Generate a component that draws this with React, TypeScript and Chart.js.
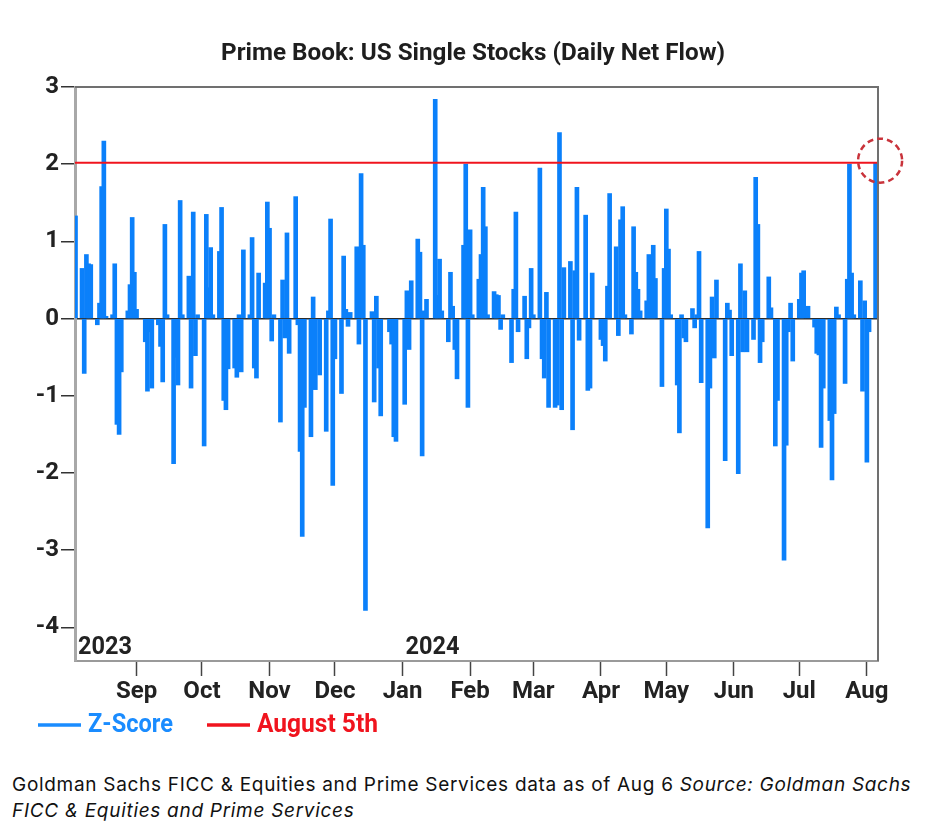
import React, { useEffect, useRef } from 'react';
import { Chart, registerables } from 'chart.js';
Chart.register(...registerables);

const FONT = "Roboto, 'DejaVu Sans Condensed', sans-serif";

// ---- data ----
const chartTitle = 'Prime Book: US Single Stocks (Daily Net Flow)';
const seriesName = 'Z-Score';
const refName = 'August 5th';

const marketHolidays = [
  '2023-09-04', '2023-11-23', '2023-12-25', '2024-01-01', '2024-01-15',
  '2024-02-19', '2024-03-29', '2024-05-27', '2024-06-19', '2024-07-04',
];

const valuesAug2023 = [1.33, 0.65, -0.71, 0.83, 0.71, 0.7, -0.08, 0.2, 1.71, 2.3, 0.03, 0.05, 0.71, -1.37, -1.5, -0.69, 0.1, 0.44, 1.31, 0.6];
const valuesSep2023 = [0.12, -0.3, -0.94, -0.17, -0.9, -0.08, -0.36, -0.82, 1.22, 0.05, -1.88, -0.5, -0.86, 1.53, 0.05, 0.55, -0.9, 1.38, -0.48, 0.05];
const valuesOct2023 = [-1.65, 1.35, 0.4, 0.92, 0.05, 0.87, 1.44, -1.06, -1.18, -0.65, -0.64, -0.76, 0.05, -0.69, 0.89, 0.05, 1.05, -0.64, -0.77, 0.59, 0.46, 1.51];
const valuesNov2023 = [1.17, -0.29, 0.05, -1.34, 0.5, -0.25, 1.11, -0.45, 1.58, -0.08, -1.72, -2.82, -1.15, -1.53, 0.28, -0.92, -0.73, -1.46, 0.1, 1.29, -2.16];
const valuesDec2023 = [-0.52, -0.97, 0.81, 0.12, -0.1, 0.08, 0.93, -0.33, 1.88, 0.95, -3.78, 0.09, -1.08, 0.29, -0.64, -1.26, -0.17, -0.33, -1.53, -1.59];
const valuesJan2024 = [-1.11, 0.36, -0.4, 0.49, 1.03, 0.86, -1.78, 0.1, 0.25, 2.84, 0.3, 0.77, 0.1, -0.3, 0.6, 0.16, -0.4, -0.78, 0.95, 2.0, -1.15];
const valuesFeb2024 = [1.15, 0.05, 0.51, 0.83, 1.7, 1.19, 0.05, 0.35, 0.31, 0.3, -0.14, 0.05, -0.57, 0.38, 1.38, -0.17, 0.29, -0.52, -0.12, 0.65];
const valuesMar2024 = [0.05, 1.95, -0.52, -0.77, 0.34, -1.15, -1.15, -1.12, 2.41, -1.18, 0.66, 0.74, -1.44, 0.62, 1.7, -0.28, 1.34, -0.93, -0.9, 0.59];
const valuesApr2024 = [-0.27, -0.35, -0.55, 0.42, 1.62, 0.93, -0.22, 1.28, 1.45, 0.05, -0.2, 1.19, 0.6, 0.38, 0.1, 0.23, 0.83, 0.1, 0.95, 0.52, -0.88, 0.65];
const valuesMay2024 = [1.42, 0.9, 0.05, -0.86, -1.48, 0.05, -0.25, -0.3, 0.13, -0.12, 0.05, 0.87, -0.83, -2.71, -0.9, 0.28, -0.51, 0.5, -1.84, 0.2, 0.11, -0.48];
const valuesJun2024 = [-2.01, 0.71, -0.43, 0.36, -0.43, -0.27, 1.83, 1.22, -0.57, -0.3, 0.54, 0.14, -1.65, -1.06, -3.13, -1.64, -0.17, 0.2, -0.55];
const valuesJul2024 = [0.25, 0.59, 0.62, 0.16, -0.11, -0.45, -0.47, -1.67, -0.9, -1.32, -2.09, -1.23, 0.15, 0.05, -0.84, 0.51, 2.0, 0.59, 0.05, 0.49, -0.94, 0.23];
const valuesAug2024 = [-1.86, -0.17, 2.02];

const seriesBlocks = [
  { year: 2023, month: 8, firstDay: 4, values: valuesAug2023 },
  { year: 2023, month: 9, firstDay: 1, values: valuesSep2023 },
  { year: 2023, month: 10, firstDay: 1, values: valuesOct2023 },
  { year: 2023, month: 11, firstDay: 1, values: valuesNov2023 },
  { year: 2023, month: 12, firstDay: 1, values: valuesDec2023 },
  { year: 2024, month: 1, firstDay: 1, values: valuesJan2024 },
  { year: 2024, month: 2, firstDay: 1, values: valuesFeb2024 },
  { year: 2024, month: 3, firstDay: 1, values: valuesMar2024 },
  { year: 2024, month: 4, firstDay: 1, values: valuesApr2024 },
  { year: 2024, month: 5, firstDay: 1, values: valuesMay2024 },
  { year: 2024, month: 6, firstDay: 1, values: valuesJun2024 },
  { year: 2024, month: 7, firstDay: 1, values: valuesJul2024 },
  { year: 2024, month: 8, firstDay: 1, values: valuesAug2024 },
];

const monthTickDates = ['2023-09-01', '2023-10-01', '2023-11-01', '2023-12-01', '2024-01-01', '2024-02-01', '2024-03-01', '2024-04-01', '2024-05-01', '2024-06-01', '2024-07-01', '2024-08-01'];
const monthTickLabels = ['Sep', 'Oct', 'Nov', 'Dec', 'Jan', 'Feb', 'Mar', 'Apr', 'May', 'Jun', 'Jul', 'Aug'];
const yearLabels = ['2023', '2024'];
const yearLabelDates = ['2023-08-03', '2024-01-01'];
const yTickValues = [3, 2, 1, 0, -1, -2, -3, -4];

// ---- helpers ----
const EPOCH = Date.UTC(2023, 7, 2);
function dayNum(iso: string): number {
  const [y, m, d] = iso.split('-').map(Number);
  return (Date.UTC(y, m - 1, d) - EPOCH) / 864e5;
}
function pad(n: number) { return n < 10 ? '0' + n : '' + n; }
function tradingDays(year: number, month: number, firstDay: number, count: number): string[] {
  const out: string[] = [];
  let day = firstDay;
  while (out.length < count && day <= 31) {
    const dt = new Date(Date.UTC(year, month - 1, day));
    if (dt.getUTCMonth() !== month - 1) break;
    const iso = `${year}-${pad(month)}-${pad(day)}`;
    const dow = dt.getUTCDay();
    if (dow !== 0 && dow !== 6 && marketHolidays.indexOf(iso) < 0) out.push(iso);
    day++;
  }
  return out;
}

const points: { x: number; y: number }[] = [];
seriesBlocks.forEach((b) => {
  const dates = tradingDays(b.year, b.month, b.firstDay, b.values.length);
  b.values.forEach((v, i) => points.push({ x: dayNum(dates[i]), y: v }));
});
const lastPoint = points[points.length - 1];
const refValue = lastPoint.y;

const X_MIN = 1.77;
const X_MAX = 370.1;

// draw horizontally condensed text (the original uses a condensed face)
function condText(ctx: CanvasRenderingContext2D, text: string, x: number, y: number, size: number, width: number, align: 'left' | 'center') {
  ctx.save();
  ctx.font = `bold ${size}px ${FONT}`;
  ctx.textBaseline = 'alphabetic';
  ctx.textAlign = 'left';
  const w = ctx.measureText(text).width;
  const sx = width / w;
  const x0 = align === 'center' ? x - width / 2 : x;
  ctx.translate(x0, y);
  ctx.scale(sx, 1);
  ctx.fillText(text, 0, 0);
  ctx.restore();
}

const decorPlugin = {
  id: 'decor',
  afterDraw(chart: any) {
    const { ctx, chartArea, scales } = chart;
    const x = scales.x;
    const y = scales.y;
    ctx.save();
    // top and right frame
    ctx.strokeStyle = '#707070';
    ctx.lineWidth = 2;
    ctx.beginPath();
    ctx.moveTo(chartArea.left, chartArea.top);
    ctx.lineTo(chartArea.right, chartArea.top);
    ctx.lineTo(chartArea.right, chartArea.bottom);
    ctx.stroke();

    // title
    ctx.fillStyle = '#1e1e1e';
    condText(ctx, chartTitle, 465, 51.5, 23.5, 504, 'center');

    // year labels
    yearLabels.forEach((t, i) => {
      const px = Math.max(x.getPixelForValue(dayNum(yearLabelDates[i])), chartArea.left) + 3;
      ctx.fillStyle = '#222';
      condText(ctx, t, px, chartArea.bottom - 7, 26.5, 54, 'left');
    });

    // legend
    const ly = 717;
    ctx.lineWidth = 3.5;
    ctx.strokeStyle = '#1a8cff';
    ctx.beginPath(); ctx.moveTo(30, ly); ctx.lineTo(73, ly); ctx.stroke();
    ctx.strokeStyle = '#f0141e';
    ctx.beginPath(); ctx.moveTo(199, ly); ctx.lineTo(242, ly); ctx.stroke();
    ctx.fillStyle = '#1a8cff';
    condText(ctx, seriesName, 80, 724, 26, 85, 'left');
    ctx.fillStyle = '#f0141e';
    condText(ctx, refName, 249, 724, 26, 121, 'left');

    // dashed circle around last bar
    const cx = x.getPixelForValue(lastPoint.x) + 4.5;
    const cy = y.getPixelForValue(lastPoint.y) - 2;
    ctx.setLineDash([6, 4]);
    ctx.lineWidth = 2.5;
    ctx.strokeStyle = '#c9333b';
    ctx.beginPath();
    ctx.arc(cx, cy, 22, 0, Math.PI * 2);
    ctx.stroke();
    ctx.restore();
  },
};

export default function App() {
  const ref = useRef<HTMLCanvasElement | null>(null);
  useEffect(() => {
    if (!ref.current) return;
    const chart = new Chart(ref.current, {
      type: 'bar',
      data: {
        datasets: [
          {
            type: 'line',
            label: refName,
            data: [{ x: X_MIN, y: refValue }, { x: X_MAX, y: refValue }],
            borderColor: '#f0141e',
            borderWidth: 2,
            pointRadius: 0,
            order: 0,
          } as any,
          {
            type: 'bar',
            label: seriesName,
            data: points,
            backgroundColor: '#0b80fa',
            borderWidth: 0,
            barThickness: 4,
            order: 1,
          } as any,
        ],
      },
      options: {
        animation: false,
        responsive: false,
        maintainAspectRatio: false,
        layout: { padding: { top: 79, right: 45, bottom: 32, left: 0 } },
        plugins: { legend: { display: false }, tooltip: { enabled: false }, title: { display: false } },
        scales: {
          x: {
            type: 'linear',
            min: X_MIN,
            max: X_MAX,
            offset: false,
            afterBuildTicks: (s: any) => { s.ticks = monthTickDates.map((d) => ({ value: dayNum(d) })); },
            afterFit: (s: any) => { s.height = 60; },
            ticks: {
              autoSkip: false,
              maxRotation: 0,
              padding: 2,
              color: '#222',
              font: { family: FONT, size: 24, weight: 'bold' },
              callback: (_v: any, i: number) => monthTickLabels[i],
            },
            grid: { offset: false, drawOnChartArea: false, drawTicks: true, tickLength: 15, tickColor: '#444', tickWidth: 1.5, color: '#444' },
            border: { display: true, color: '#9a9a9a', width: 2 },
          },
          y: {
            type: 'linear',
            min: -4.435,
            max: 3,
            z: 1,
            afterBuildTicks: (s: any) => { s.ticks = yTickValues.map((v) => ({ value: v })); },
            afterFit: (s: any) => { s.width = 67; },
            ticks: {
              padding: 2,
              color: '#222',
              font: { family: FONT, size: 24, weight: 'bold' },
              callback: (v: any) => String(v),
            },
            grid: {
              color: (c: any) => (c.tick && c.tick.value === 0 ? '#2b2b2b' : 'rgba(0,0,0,0)'),
              lineWidth: 1.5,
              drawTicks: true,
              tickLength: 14,
              tickColor: '#333',
              tickWidth: 1.5,
            },
            border: { display: true, color: '#a8a8a8', width: 3 },
          },
        },
      } as any,
      plugins: [decorPlugin],
    });
    return () => chart.destroy();
  }, []);

  return (
    <div style={{ position: 'relative', width: 915, height: 820 }}>
      <canvas ref={ref} width={915} height={745} style={{ position: 'absolute', left: 0, top: 0 }} />
      <div
        style={{
          position: 'absolute',
          left: 4,
          top: 764,
          fontFamily: "Inter, 'Liberation Sans', Arial, sans-serif",
          fontSize: 19,
          letterSpacing: '0.7px',
          lineHeight: '26px',
          color: '#111',
          whiteSpace: 'nowrap',
        }}
      >
        Goldman Sachs FICC &amp; Equities and Prime Services data as of Aug 6{' '}
        <i>Source: Goldman Sachs</i>
        <br />
        <i>FICC &amp; Equities and Prime Services</i>
      </div>
    </div>
  );
}
